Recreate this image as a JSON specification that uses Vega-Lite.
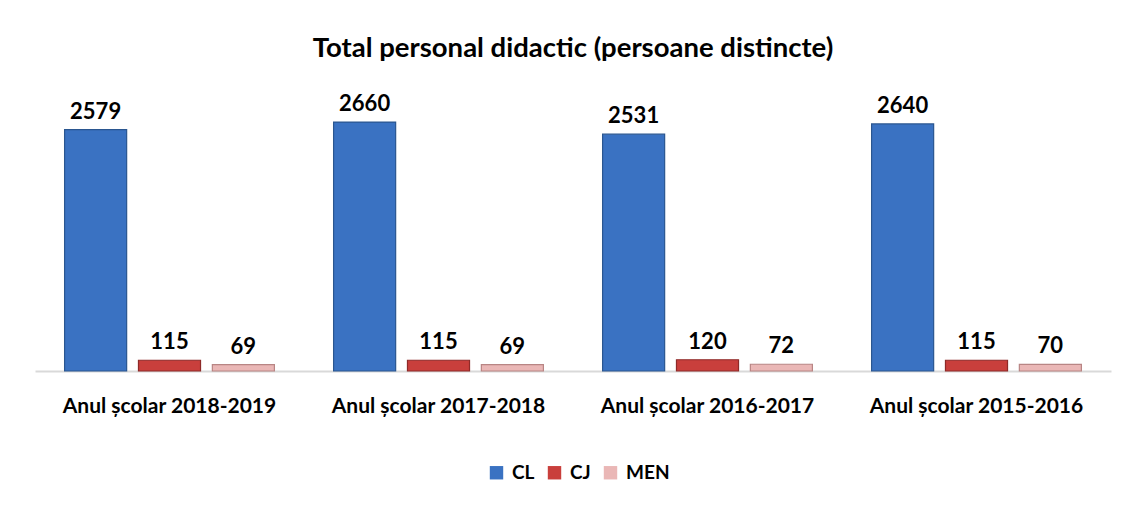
{
  "$schema": "https://vega.github.io/schema/vega-lite/v6.json",
  "width": 1076,
  "height": 270,
  "autosize": {"type": "none"},
  "padding": {"left": 35, "top": 101, "right": 22, "bottom": 139},
  "background": "white",
  "title": {
    "text": "Total personal didactic (persoane distincte)",
    "font": "Lato",
    "fontSize": 27.5,
    "fontWeight": "bold",
    "color": "#000000",
    "anchor": "middle",
    "offset": 31
  },
  "data": {
    "values": [
      {"an": "Anul școlar 2018-2019", "serie": "CL", "valoare": 2579},
      {"an": "Anul școlar 2018-2019", "serie": "CJ", "valoare": 115},
      {"an": "Anul școlar 2018-2019", "serie": "MEN", "valoare": 69},
      {"an": "Anul școlar 2017-2018", "serie": "CL", "valoare": 2660},
      {"an": "Anul școlar 2017-2018", "serie": "CJ", "valoare": 115},
      {"an": "Anul școlar 2017-2018", "serie": "MEN", "valoare": 69},
      {"an": "Anul școlar 2016-2017", "serie": "CL", "valoare": 2531},
      {"an": "Anul școlar 2016-2017", "serie": "CJ", "valoare": 120},
      {"an": "Anul școlar 2016-2017", "serie": "MEN", "valoare": 72},
      {"an": "Anul școlar 2015-2016", "serie": "CL", "valoare": 2640},
      {"an": "Anul școlar 2015-2016", "serie": "CJ", "valoare": 115},
      {"an": "Anul școlar 2015-2016", "serie": "MEN", "valoare": 70}
    ]
  },
  "encoding": {
    "x": {
      "field": "an",
      "type": "nominal",
      "sort": null,
      "scale": {"paddingInner": 0.22, "paddingOuter": 0.11},
      "axis": {
        "title": null,
        "labelAngle": 0,
        "labelFont": "Lato",
        "labelFontSize": 21,
        "labelFontWeight": "bold",
        "labelColor": "#000000",
        "labelPadding": 24,
        "labelLimit": 400,
        "labelOverlap": false,
        "ticks": false,
        "domainColor": "#d9d9d9",
        "domainWidth": 2
      }
    },
    "xOffset": {
      "field": "serie",
      "type": "nominal",
      "sort": ["CL", "CJ", "MEN"],
      "scale": {"paddingInner": 0.16, "paddingOuter": 0}
    },
    "y": {
      "field": "valoare",
      "type": "quantitative",
      "scale": {"domain": [0, 2885], "nice": false},
      "axis": null
    }
  },
  "layer": [
    {
      "mark": {"type": "bar", "strokeWidth": 1.2},
      "encoding": {
        "color": {
          "field": "serie",
          "type": "nominal",
          "sort": ["CL", "CJ", "MEN"],
          "scale": {"domain": ["CL", "CJ", "MEN"], "range": ["#3a72c2", "#c93f3c", "#eab7b6"]},
          "legend": {
            "title": null,
            "orient": "none",
            "direction": "horizontal",
            "legendX": 452,
            "legendY": 362,
            "symbolType": "square",
            "symbolSize": 180,
            "symbolStrokeWidth": 0,
            "labelFont": "Lato",
            "labelFontSize": 19,
            "labelFontWeight": "bold",
            "labelColor": "#000000",
            "columnPadding": 10,
            "labelOffset": 6
          }
        },
        "stroke": {
          "field": "serie",
          "type": "nominal",
          "scale": {"domain": ["CL", "CJ", "MEN"], "range": ["#2a5690", "#8e2a28", "#b88584"]},
          "legend": null
        }
      }
    },
    {
      "mark": {
        "type": "text",
        "baseline": "bottom",
        "dy": -6,
        "font": "Lato",
        "fontSize": 22,
        "fontWeight": "bold",
        "color": "#000000"
      },
      "encoding": {"text": {"field": "valoare", "type": "quantitative"}}
    }
  ],
  "config": {"view": {"stroke": null}}
}
